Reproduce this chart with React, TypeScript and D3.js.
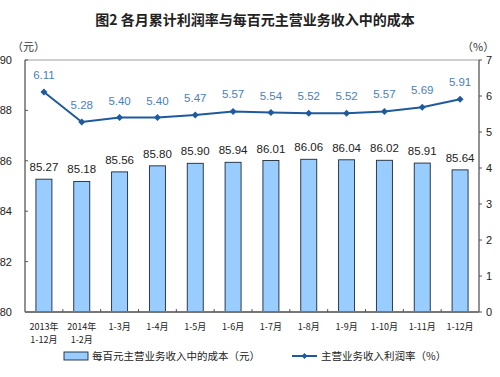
import React from "react";
import * as d3 from "d3";

const categories = ["2013年|1-12月", "2014年|1-2月", "1-3月", "1-4月", "1-5月", "1-6月", "1-7月", "1-8月", "1-9月", "1-10月", "1-11月", "1-12月"];
const costValues = [85.27, 85.18, 85.56, 85.8, 85.9, 85.94, 86.01, 86.06, 86.04, 86.02, 85.91, 85.64];
const rateValues = [6.11, 5.28, 5.4, 5.4, 5.47, 5.57, 5.54, 5.52, 5.52, 5.57, 5.69, 5.91];
const leftTicks = [80, 82, 84, 86, 88, 90];
const rightTicks = [0, 1, 2, 3, 4, 5, 6, 7];
const title = "图2  各月累计利润率与每百元主营业务收入中的成本";
const legendBar = "每百元主营业务收入中的成本（元）";
const legendLine = "主营业务收入利润率（%）";

const W = 500, H = 377;
const L = 25, R = 479, T = 60, B = 312;
const cjk = "'Noto Sans CJK SC', sans-serif";
const num = "'Liberation Sans', Arial, sans-serif";

export default function App() {
  const x = d3.scaleBand<number>().domain(d3.range(categories.length)).range([L, R]).padding(0);
  const yL = d3.scaleLinear().domain([80, 90]).range([B, T]);
  const yR = d3.scaleLinear().domain([0, 7]).range([B, T]);
  const bw = 16;
  const cx = (i: number) => (x(i) as number) + x.bandwidth() / 2;
  const line = d3.line<number>().x((_, i) => cx(i)).y((d) => yR(d));
  const lineColor = "#1F5A9E";
  const labelColor = "#4A7EBB";
  const diamond = (px: number, py: number, s = 3.5) => `M${px},${py - s}L${px + s},${py}L${px},${py + s}L${px - s},${py}Z`;

  return (
    <svg width={W} height={H} style={{ position: "absolute", left: 0, top: 0, background: "#fff" }}>
      <rect width={W} height={H} fill="#fff" />
      <text x={255} y={25} textAnchor="middle" fontFamily={cjk} fontSize={14} fontWeight="bold" fill="#222">{title}</text>
      <text x={12} y={51} fontFamily={cjk} fontSize={11} fill="#333">（元）</text>
      <text x={462} y={51} fontFamily={cjk} fontSize={11} fill="#333">（%）</text>
      {/* frame */}
      <rect x={L} y={T} width={R - L} height={B - T} fill="none" stroke="#888" strokeWidth={0.8} />
      {/* left axis */}
      <line x1={L} x2={L} y1={T} y2={B} stroke="#555" strokeWidth={1} />
      {leftTicks.map((t) => (
        <g key={"l" + t}>
          <line x1={L} x2={L + 3} y1={yL(t)} y2={yL(t)} stroke="#555" />
          <text x={12} y={yL(t) + 4} textAnchor="end" fontFamily={num} fontSize={11} fill="#222">{t}</text>
        </g>
      ))}
      {/* right axis */}
      <line x1={R} x2={R} y1={T} y2={B} stroke="#555" strokeWidth={1} />
      {rightTicks.map((t) => (
        <g key={"r" + t}>
          <line x1={R} x2={R + 3} y1={yR(t)} y2={yR(t)} stroke="#555" />
          <text x={486} y={yR(t) + 4} fontFamily={num} fontSize={11} fill="#222">{t}</text>
        </g>
      ))}
      {/* bars */}
      {costValues.map((v, i) => (
        <g key={"b" + i}>
          <rect x={cx(i) - bw / 2} y={yL(v)} width={bw} height={B - yL(v)} fill="#99CCFF" stroke="#1a2a3a" strokeWidth={0.9} />
          <text x={cx(i)} y={yL(v) - 8} textAnchor="middle" fontFamily={num} fontSize={11.5} fill="#222">{v.toFixed(2)}</text>
        </g>
      ))}
      {/* bottom axis */}
      <line x1={L} x2={R} y1={B} y2={B} stroke="#777" strokeWidth={2} />
      {categories.map((_, i) => i > 0 ? (
        <line key={"t" + i} x1={x(i) as number} x2={x(i) as number} y1={B} y2={B - 3} stroke="#555" />
      ) : null)}
      {categories.map((c, i) => {
        const parts = c.split("|");
        return parts.map((p, j) => (
          <text key={"c" + i + j} x={cx(i)} y={330 + j * 13} textAnchor="middle" fontFamily={cjk} fontSize={9} fill="#222">{p}</text>
        ));
      })}
      {/* line */}
      <path d={line(rateValues) || ""} fill="none" stroke={lineColor} strokeWidth={2} />
      {rateValues.map((v, i) => (
        <g key={"p" + i}>
          <path d={diamond(cx(i), yR(v))} fill={lineColor} />
          <text x={cx(i)} y={yR(v) - 13} textAnchor="middle" fontFamily={num} fontSize={11.5} fill={labelColor}>{v.toFixed(2)}</text>
        </g>
      ))}
      {/* legend */}
      <rect x={64} y={352} width={24} height={8} fill="#99CCFF" stroke="#1a2a3a" strokeWidth={0.9} />
      <text x={92} y={360} fontFamily={cjk} fontSize={10.5} fill="#222">{legendBar}</text>
      <line x1={292} x2={317} y1={356} y2={356} stroke={lineColor} strokeWidth={2} />
      <path d={diamond(304.5, 356, 3)} fill={lineColor} />
      <text x={321} y={360} fontFamily={cjk} fontSize={10.5} fill="#222">{legendLine}</text>
    </svg>
  );
}
